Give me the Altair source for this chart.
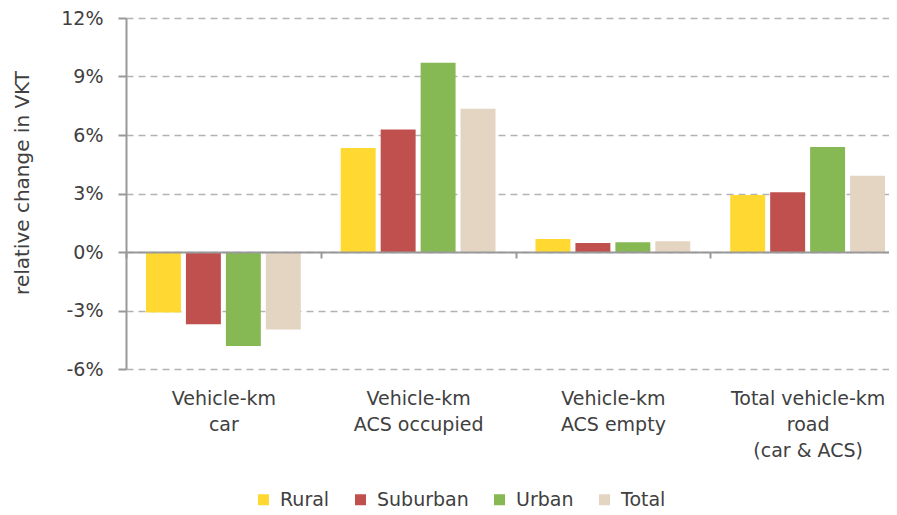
import altair as alt
import pandas as pd

categories = ["Vehicle-km|car", "Vehicle-km|ACS occupied", "Vehicle-km|ACS empty",
              "Total vehicle-km|road|(car & ACS)"]
series = ["Rural", "Suburban", "Urban", "Total"]
rural = [-3.10, 5.33, 0.67, 2.92]
suburban = [-3.71, 6.28, 0.46, 3.07]
urban = [-4.82, 9.71, 0.50, 5.38]
total = [-3.97, 7.35, 0.55, 3.91]
colors = ["#FFD932", "#C0504D", "#86B953", "#E4D4C2"]
y_ticks = [-6, -3, 0, 3, 6, 9, 12]

rows = []
for s, vals in zip(series, [rural, suburban, urban, total]):
    for c, v in zip(categories, vals):
        rows.append({"category": c, "series": s, "value": v})
df = pd.DataFrame(rows)

FONT = "DejaVu Sans"
TXT = "#404040"
AX = "#999999"

chart = alt.Chart(df).mark_bar().encode(
    x=alt.X(
        "category:N", sort=categories,
        scale=alt.Scale(paddingInner=0, paddingOuter=0, range=[0, 779]),
        axis=alt.Axis(
            title=None, orient="bottom", offset=-117,
            labelExpr="split(datum.label, '|')", labelAngle=0,
            labelFontSize=19, labelColor=TXT, labelFont=FONT,
            labelLineHeight=26, labelPadding=131, labelLimit=300,
            tickBand="extent", tickSize=6, tickColor=AX, tickWidth=2,
            domainColor=AX, domainWidth=2, zindex=1,
        ),
    ),
    xOffset=alt.XOffset("series:N", sort=series,
                        scale=alt.Scale(paddingInner=0.125, paddingOuter=0.5)),
    y=alt.Y(
        "value:Q",
        scale=alt.Scale(domain=[-6, 12], nice=False, zero=False),
        axis=alt.Axis(
            values=y_ticks, labelExpr="datum.value + '%'",
            title="relative change in VKT",
            titleX=-104, titleY=164.5, titleAngle=270,
            titleAlign="center", titleBaseline="middle",
            titleFontSize=20, titleFontWeight="normal", titleColor=TXT, titleFont=FONT,
            labelFontSize=19, labelColor=TXT, labelFont=FONT, labelPadding=15,
            tickSize=8, tickColor=AX, tickWidth=2,
            domainColor=AX, domainWidth=2,
            grid=True, gridDash=[7, 5], gridColor="#b3b3b3", gridWidth=1.5,
        ),
    ),
    color=alt.Color(
        "series:N", sort=series,
        scale=alt.Scale(domain=series, range=colors),
        legend=alt.Legend(
            title=None, orient="none", legendX=128, legendY=472,
            direction="horizontal", symbolType="square", symbolSize=121,
            symbolStrokeWidth=0, labelFontSize=19, labelFont=FONT,
            labelColor=TXT, labelOffset=7, columnPadding=21, padding=0,
        ),
    ),
).properties(
    width=763, height=351,
    autosize=alt.AutoSizeParams(type="none"),
    padding={"left": 118, "top": 10, "right": 0, "bottom": 142},
).configure_view(stroke=None)

chart.save("out.html", embed_options={"renderer": "svg", "actions": False})
